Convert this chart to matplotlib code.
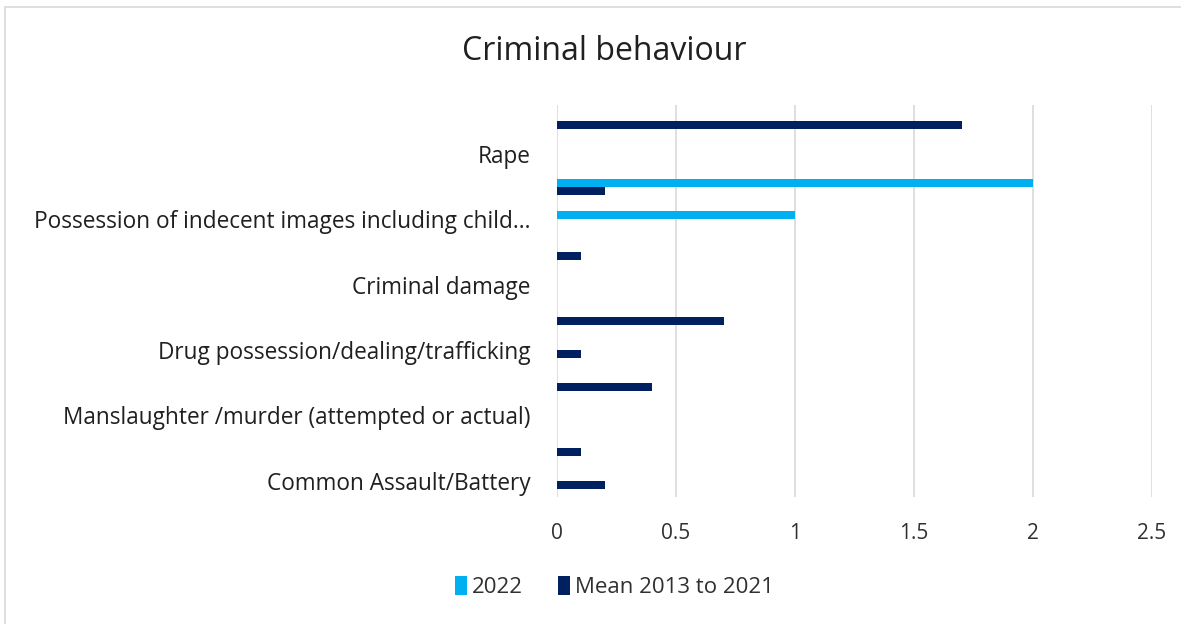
import matplotlib
import matplotlib.pyplot as plt
import numpy as np
from matplotlib.patches import Rectangle

matplotlib.use("Agg")

# categories from bottom to top; Excel only shows every other label
categories = [
    "Common Assault/Battery",
    "",
    "Manslaughter /murder (attempted or actual)",
    "",
    "Drug possession/dealing/trafficking",
    "",
    "Criminal damage",
    "",
    "Possession of indecent images including child...",
    "",
    "Rape",
    "",
]
values_2022 = [0, 0, 0, 0, 0, 0, 0, 0, 1.0, 2.0, 0, 0]
values_mean = [0.2, 0.1, 0, 0.4, 0.1, 0.7, 0, 0.1, 0, 0.2, 0, 1.7]
x_ticks = [0, 0.5, 1, 1.5, 2, 2.5]

plt.rcParams["font.family"] = ["Open Sans", "DejaVu Sans"]

fig = plt.figure(figsize=(11.81, 6.24), dpi=100)
ax = fig.add_axes([0.4716, 0.2035, 0.5039, 0.6282])

y = np.arange(len(categories))
h = 0.245
ax.barh(y + h / 2, values_2022, height=h, color="#00B0F0", label="2022", zorder=3)
ax.barh(y - h / 2, values_mean, height=h, color="#002060", label="Mean 2013 to 2021", zorder=3)

ax.set_xlim(0, 2.5)
ax.set_ylim(-0.5, len(categories) - 0.5)
ax.set_xticks(x_ticks)
ax.set_xticklabels([f"{t:g}" for t in x_ticks], fontsize=15, color="#303030")
ax.set_yticks(y)
ax.set_yticklabels(categories, fontsize=16.3, color="#202020")
ax.tick_params(axis="x", length=0, pad=19)
ax.tick_params(axis="y", length=0, pad=19)
ax.grid(axis="x", color="#d9d9d9", linewidth=1.2, zorder=0)
for s in ax.spines.values():
    s.set_visible(False)

fig.text(0.512, 0.918, "Criminal behaviour", ha="center", va="center", fontsize=23, color="#202020")

fig.legend(
    loc="center",
    bbox_to_anchor=(0.52, 0.059),
    ncol=2,
    frameon=False,
    fontsize=16,
    handlelength=0.55,
    handleheight=0.9,
    handletextpad=0.2,
    columnspacing=1.6,
    labelcolor="#303030",
)

fig.patches.append(
    Rectangle((0.004, -0.01), 1.0, 0.998, transform=fig.transFigure, fill=False, edgecolor="#d9d9d9", linewidth=1.2)
)

fig.savefig("out.png", dpi=100)
